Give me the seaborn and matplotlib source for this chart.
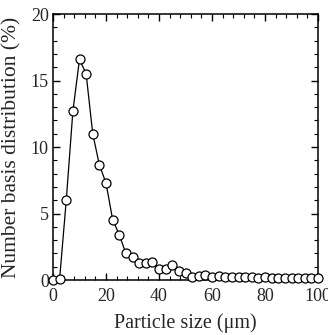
import numpy as np
import pandas as pd
import matplotlib
matplotlib.use("Agg")
import matplotlib.pyplot as plt
import seaborn as sns
from matplotlib.ticker import MultipleLocator

# Data
particle_size = [0, 2.5, 5, 7.5, 10, 12.5, 15, 17.5, 20, 22.5, 25, 27.5, 30, 32.5,
                 35, 37.5, 40, 42.5, 45, 47.5, 50, 52.5, 55, 57.5, 60, 62.5, 65,
                 67.5, 70, 72.5, 75, 77.5, 80, 82.5, 85, 87.5, 90, 92.5, 95, 97.5, 100]
distribution = [0.0, 0.1, 6.0, 12.7, 16.6, 15.5, 11.0, 8.65, 7.3, 4.55, 3.4, 2.0,
                1.7, 1.3, 1.3, 1.35, 0.85, 0.8, 1.1, 0.65, 0.55, 0.25, 0.3, 0.35,
                0.25, 0.3, 0.2, 0.2, 0.25, 0.2, 0.2, 0.18, 0.2, 0.18, 0.12, 0.15,
                0.15, 0.15, 0.15, 0.15, 0.18]

df = pd.DataFrame({"size": particle_size, "dist": distribution})

sns.set_style("ticks")
plt.rcParams["font.family"] = ["Liberation Serif", "DejaVu Serif"]

fig = plt.figure(figsize=(3.28, 3.35), dpi=100)
ax = fig.add_axes([0.1616, 0.164, 0.808, 0.794])

sns.lineplot(data=df, x="size", y="dist", ax=ax, color="black", linewidth=0.9,
             marker="o", markersize=6.5, markerfacecolor="white",
             markeredgecolor="black", markeredgewidth=0.9, clip_on=False, zorder=3)

ax.set_xlim(0, 100)
ax.set_ylim(0, 20)
ax.xaxis.set_major_locator(MultipleLocator(20))
ax.xaxis.set_minor_locator(MultipleLocator(4))
ax.yaxis.set_major_locator(MultipleLocator(5))
ax.yaxis.set_minor_locator(MultipleLocator(1))
ax.tick_params(which="both", direction="in", top=True, right=True,
               labelsize=13, color="black")
ax.tick_params(axis="x", pad=6)
ax.tick_params(axis="y", pad=3)
ax.tick_params(which="major", length=5, width=1)
ax.tick_params(which="minor", length=3, width=0.8)
for s in ax.spines.values():
    s.set_linewidth(1.1)
    s.set_color("black")

ax.set_xlabel("Particle size (μm)", fontsize=14.5, labelpad=6)
ax.set_ylabel("Number basis distribution (%)", fontsize=15.5, labelpad=7)

fig.savefig("out.png", dpi=100)
